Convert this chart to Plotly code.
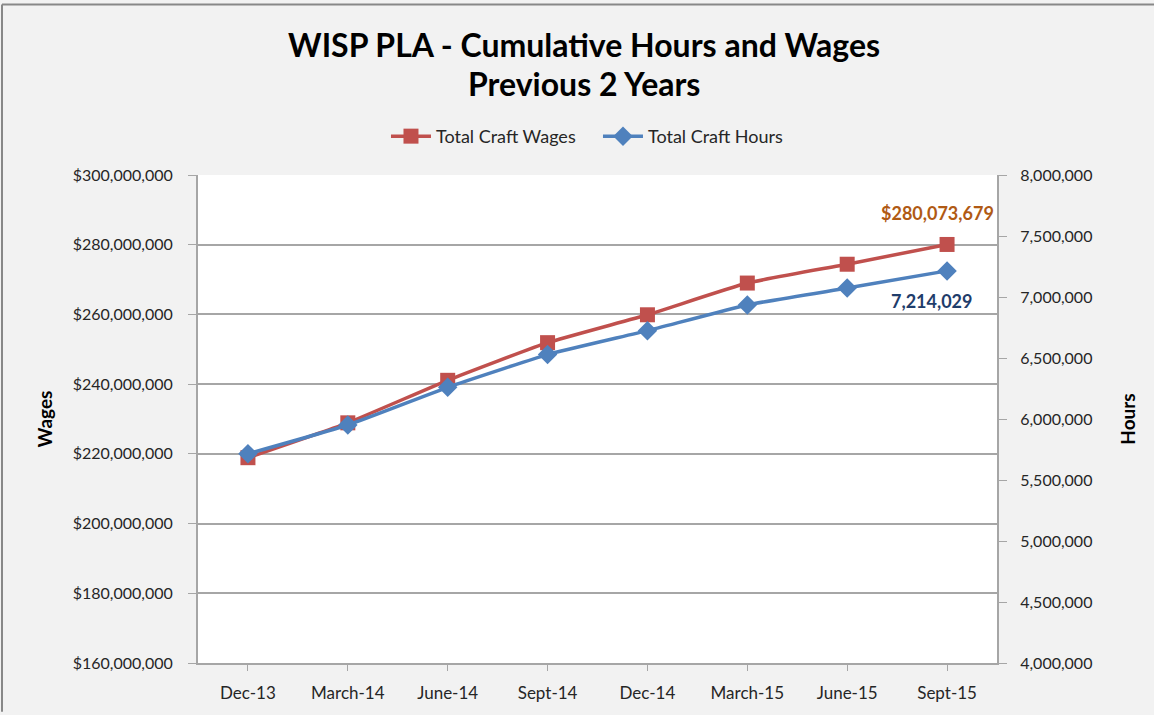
import plotly.graph_objects as go

categories = ["Dec-13", "March-14", "June-14", "Sept-14", "Dec-14", "March-15", "June-15", "Sept-15"]
wages = [218900000, 228900000, 241100000, 251900000, 259900000, 269000000, 274400000, 280073679]
hours = [5715000, 5951000, 6260000, 6528000, 6724000, 6935000, 7073000, 7214029]
wage_ticks = [160000000, 180000000, 200000000, 220000000, 240000000, 260000000, 280000000, 300000000]
hour_ticks = [4000000, 4500000, 5000000, 5500000, 6000000, 6500000, 7000000, 7500000, 8000000]
title_lines = ["WISP PLA - Cumulative Hours and Wages", "Previous 2 Years"]

FONT = "Lato"
RED = "#c0504d"
BLUE = "#4f81bd"

fig = go.Figure()
fig.add_trace(go.Scatter(
    x=categories, y=wages, name="Total Craft Wages", mode="lines+markers",
    line=dict(color=RED, width=3.5, shape="spline", smoothing=0.4),
    marker=dict(symbol="square", size=15, color=RED),
    yaxis="y",
))
fig.add_trace(go.Scatter(
    x=categories, y=hours, name="Total Craft Hours", mode="lines+markers",
    line=dict(color=BLUE, width=3.5, shape="spline", smoothing=0.4),
    marker=dict(symbol="diamond", size=15, color=BLUE),
    yaxis="y2",
))

fig.add_annotation(x=categories[-1], y=wages[-1], yref="y", text="<b>$%s</b>" % format(wages[-1], ","),
                   showarrow=False, yshift=31, xshift=-10, font=dict(family=FONT, size=18, color="#b05a14"))
fig.add_annotation(x=categories[-1], y=hours[-1], yref="y2", text="<b>%s</b>" % format(hours[-1], ","),
                   showarrow=False, yshift=-30, xshift=-15, font=dict(family=FONT, size=18, color="#1f3d6b"))

# title lines
for txt, yy in zip(title_lines, [1.268, 1.187]):
    fig.add_annotation(x=0.483, y=yy, xref="paper", yref="paper", text="<b>%s</b>" % txt,
                       showarrow=False, xanchor="center", yanchor="middle",
                       font=dict(family=FONT, size=32, color="#000000"))

# outer frame (left and top edges)
fig.add_shape(type="line", xref="paper", yref="paper", x0=-0.2453, x1=-0.2453, y0=-0.1, y1=1.3496,
              line=dict(color="#888888", width=2))
fig.add_shape(type="line", xref="paper", yref="paper", x0=-0.2453, x1=1.2, y0=1.3496, y1=1.3496,
              line=dict(color="#888888", width=2))

fig.update_layout(
    width=1154, height=715,
    margin=dict(l=198, r=157, t=175, b=48),
    paper_bgcolor="#f2f2f2", plot_bgcolor="#ffffff",
    font=dict(family=FONT, size=16, color="#262626"),
    showlegend=True,
    legend=dict(orientation="h", x=0.5006, xanchor="center", y=1.079, yanchor="middle",
                font=dict(family=FONT, size=18, color="#262626"), bgcolor="rgba(0,0,0,0)",
                itemwidth=40, entrywidth=157),
    xaxis=dict(type="category", range=[-0.5, 7.5], showgrid=False, showline=True, linecolor="#a6a6a6",
               linewidth=2, ticks="outside", ticklen=6, tickcolor="#a6a6a6", tickfont=dict(size=17),
               ticklabelstandoff=8, zeroline=False),
    yaxis=dict(range=[160000000, 300000000], tickvals=wage_ticks, tickformat="$,.0f",
               showgrid=True, gridcolor="#a6a6a6", gridwidth=1.5, showline=True, linecolor="#a6a6a6",
               linewidth=2, ticks="outside", ticklen=8, tickcolor="#a6a6a6", ticklabelstandoff=12,
               zeroline=False,
               title=dict(text="<b>Wages</b>", font=dict(family=FONT, size=19, color="#000000"), standoff=15)),
    yaxis2=dict(range=[4000000, 8000000], tickvals=hour_ticks, tickformat=",.0f", overlaying="y",
                side="right", showgrid=False, showline=True, linecolor="#a6a6a6", linewidth=2,
                ticks="outside", ticklen=8, tickcolor="#a6a6a6", ticklabelstandoff=10, zeroline=False,
                title=dict(text="<b>Hours</b>", font=dict(family=FONT, size=19, color="#000000"), standoff=30)),
)

fig.write_html("out.html", config={"displayModeBar": False},
               post_script="document.body.style.margin='0';document.body.style.overflow='hidden';")
